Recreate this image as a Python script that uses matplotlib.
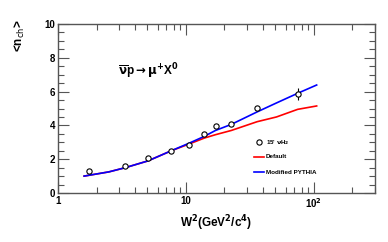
import matplotlib
matplotlib.use("Agg")
import matplotlib.pyplot as plt
import numpy as np
from matplotlib.ticker import FixedLocator, NullFormatter, MultipleLocator, LogLocator

plt.rcParams['font.family'] = ['Liberation Sans', 'DejaVu Sans']
plt.rcParams['mathtext.default'] = 'bf'

# data points (15' nu H2)
data_w2 = [1.76, 3.36, 5.05, 7.68, 10.6, 13.9, 17.1, 22.6, 36.1, 74.6]
data_n = [1.32, 1.60, 2.05, 2.50, 2.84, 3.47, 3.94, 4.08, 5.01, 5.86]
data_err = [0.12, 0.08, 0.08, 0.08, 0.08, 0.1, 0.1, 0.12, 0.15, 0.35]

# Default curve
def_w2 = [1.6, 2.5, 3.36, 5.05, 7.68, 10.6, 13.9, 17.0, 22.6, 36.0, 51.0, 74.6, 105.0]
def_n = [1.0, 1.25, 1.5, 1.9, 2.5, 2.9, 3.25, 3.45, 3.7, 4.22, 4.5, 4.95, 5.15]

# Modified PYTHIA curve
mod_w2 = [1.6, 2.5, 3.36, 5.05, 7.68, 10.6, 13.9, 17.0, 22.6, 36.0, 50.0, 74.6, 105.0]
mod_n = [1.0, 1.25, 1.5, 1.9, 2.5, 2.95, 3.35, 3.7, 4.06, 4.8, 5.3, 5.9, 6.39]

fig = plt.figure(figsize=(3.88, 2.42), dpi=100)
ax = fig.add_axes([0.1495, 0.2025, 0.817, 0.6983])

ax.plot(def_w2, def_n, color='#ff0000', lw=1.2)
ax.plot(mod_w2, mod_n, color='#0000ff', lw=1.2)
ax.errorbar(data_w2, data_n, yerr=data_err, fmt='o', mfc='white', mec='black',
            ms=3.8, mew=0.8, ecolor='black', elinewidth=0.8, capsize=0)

ax.set_xscale('log')
ax.set_xlim(1, 300)
ax.set_ylim(0, 10)

ax.yaxis.set_major_locator(MultipleLocator(2))
ax.yaxis.set_minor_locator(MultipleLocator(0.5))
ax.xaxis.set_major_locator(FixedLocator([1, 10, 100]))
ax.xaxis.set_minor_locator(LogLocator(base=10, subs=np.arange(2, 10)))
ax.xaxis.set_minor_formatter(NullFormatter())
ax.set_xticklabels(['1', '10', r'10$^{\mathbf{2}}$'])

ax.tick_params(which='both', direction='in', top=True, right=True, color='#555555',
               labelsize=7)
ax.tick_params(which='major', length=8, width=0.8)
ax.tick_params(which='minor', length=4, width=0.8)
for lab in ax.get_xticklabels() + ax.get_yticklabels():
    lab.set_fontweight('bold')
ax.tick_params(axis='x', pad=2)
ax.tick_params(axis='y', pad=2)
for s in ax.spines.values():
    s.set_color('#555555')
    s.set_linewidth(1.0)

ax.set_xlabel(r'W$^2$(GeV$^2$/c$^4$)', fontsize=8.5, fontweight='bold', labelpad=3)
fig.text(0.052, 0.92, r'<n$_{\rm ch}$>', rotation=90, ha='center', va='top',
         fontsize=8.5, fontweight='bold')

ax.text(0.19, 0.72, r'$\overline{\nu}$p$\rightarrow\mu^{+}$X$^{0}$', transform=ax.transAxes,
        fontsize=8.5, fontweight='bold', va='center', ha='left')

# legend
ax.plot([0.634], [0.30], transform=ax.transAxes, marker='o', mfc='white', mec='black',
        ms=3.8, mew=0.8, ls='none')
ax.text(0.655, 0.30, r"15' $\nu$H$_2$", transform=ax.transAxes, fontsize=4.5,
        fontweight='bold', va='center')
ax.plot([0.618, 0.65], [0.215, 0.215], transform=ax.transAxes, color='#ff0000', lw=1.2)
ax.text(0.656, 0.215, 'Default', transform=ax.transAxes, fontsize=4.5,
        fontweight='bold', va='center')
ax.plot([0.618, 0.65], [0.122, 0.122], transform=ax.transAxes, color='#0000ff', lw=1.2)
ax.text(0.656, 0.122, 'Modified PYTHIA', transform=ax.transAxes, fontsize=4.5,
        fontweight='bold', va='center')

fig.savefig('out.png', dpi=100)
